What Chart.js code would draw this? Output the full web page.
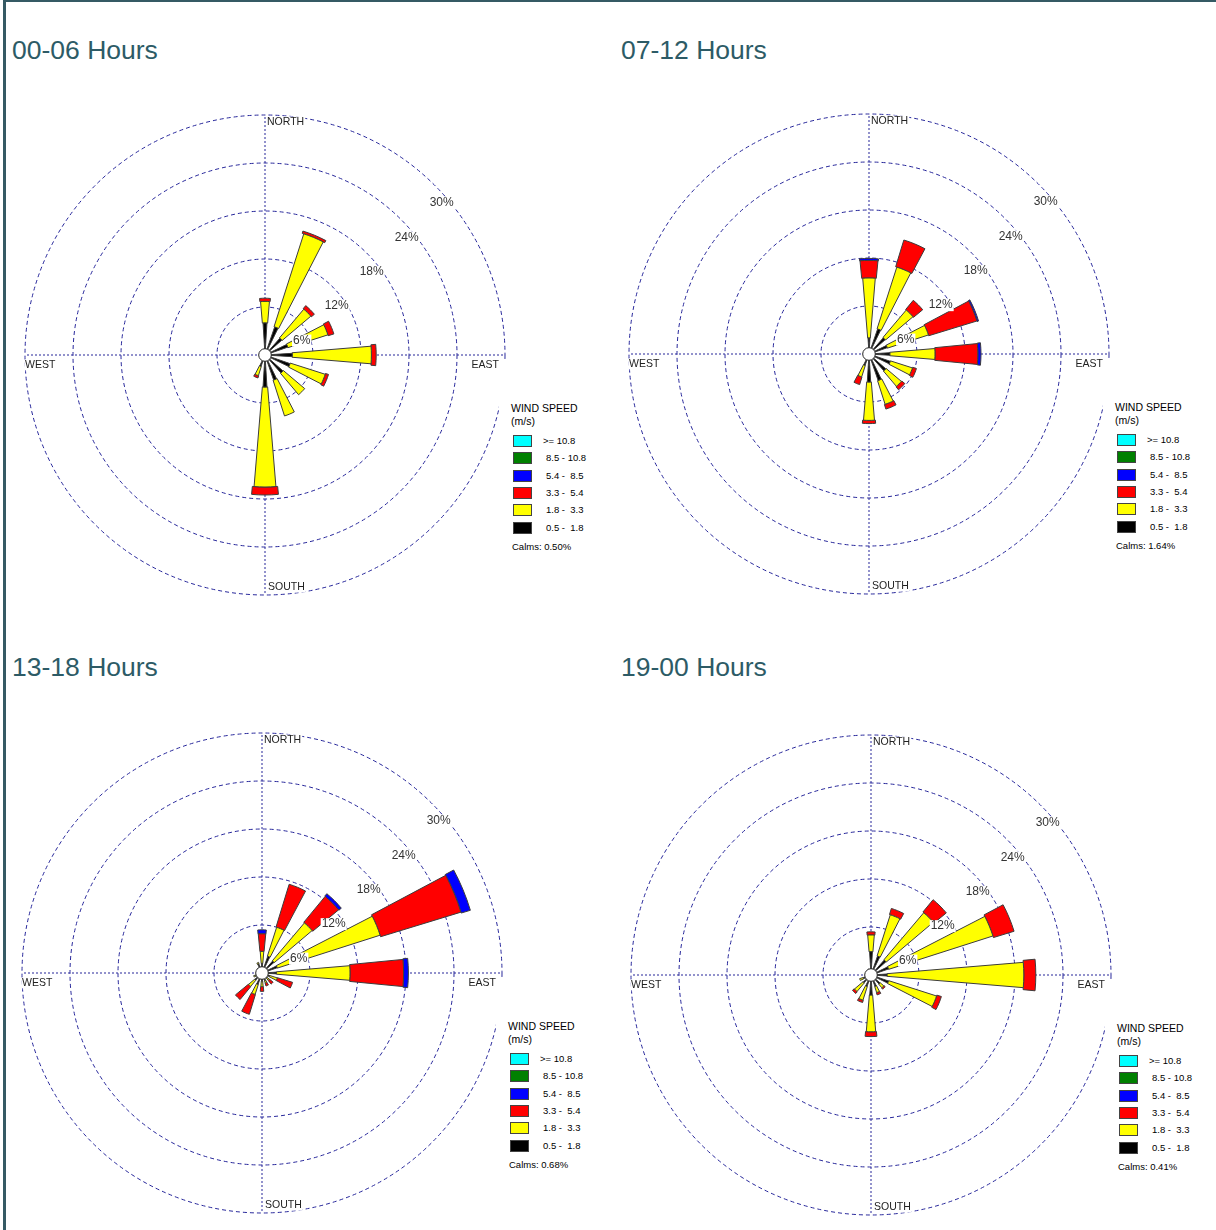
<!DOCTYPE html>
<html>
<head>
<meta charset="utf-8">
<script src="https://cdn.jsdelivr.net/npm/chart.js@4.4.1/dist/chart.umd.min.js"></script>
<style>
  html, body { margin: 0; padding: 0; background: #fff; }
  body { width: 1216px; height: 1230px; position: relative; overflow: hidden;
         font-family: "Liberation Sans", Arial, sans-serif; }
  #frame { position: absolute; left: 3px; top: 0; width: 1213px; height: 1230px; box-sizing: border-box;
           border-left: 3px solid #355a64; border-top: 2px solid #355a64; }
  .title { position: absolute; font-size: 26.5px; line-height: 27px; color: #2d5b66; white-space: nowrap; }
  .rose { position: absolute; width: 488px; height: 488px; }
  .legend { position: absolute; width: 110px; height: 198px; background: #fff; color: #000; }
  .legend div { position: absolute; white-space: pre; }
  .lgHead { left: 12px; top: 43px; font-size: 10.5px; line-height: 13px; }
  .lgBox { width: 19px; height: 12px; box-sizing: border-box; border: 1px solid #444; }
  .lgText { font-size: 9.5px; line-height: 12px; }
</style>
</head>
<body>
<div id="frame"></div>
<script>
// ---- data -----------------------------------------------------------------
const directions = ['N', 'NNE', 'NE', 'ENE', 'E', 'ESE', 'SE', 'SSE', 'S', 'SSW', 'SW', 'WSW', 'W', 'WNW', 'NW', 'NNW'];
const compassLabels = ['NORTH', 'EAST', 'SOUTH', 'WEST'];
const ringTicks = [6, 12, 18, 24, 30];
const speedClasses = ['>= 10.8', '8.5 - 10.8', '5.4 -  8.5', '3.3 -  5.4', '1.8 -  3.3', '0.5 -  1.8'];
const panelTitles = ['00-06 Hours', '07-12 Hours', '13-18 Hours', '19-00 Hours'];
const calms = ['0.50', '1.64', '0.68', '0.41'];

// frequency (%) by direction, N..NNW
const none      = [0, 0, 0, 0, 0, 0, 0, 0, 0, 0, 0, 0, 0, 0, 0, 0];

const h00Black  = [4.0, 3.7, 2.8, 3.0, 3.4, 3.3, 3.0, 3.3, 4.0, 1.5, 0.4, 0.3, 0.3, 0.3, 0.4, 0.5];
const h00Yellow = [2.7, 12.2, 4.7, 5.25, 9.9, 4.6, 3.5, 4.7, 12.5, 1.2, 0, 0, 0, 0, 0, 0];
const h00Red    = [0.4, 0.3, 0.5, 0.75, 0.6, 0.4, 0, 0, 1.0, 0.3, 0, 0, 0, 0, 0, 0];

const h07Black  = [2.0, 3.3, 2.7, 2.4, 2.6, 2.8, 2.8, 3.5, 3.5, 1.5, 0.5, 0.3, 0.3, 0.3, 0.4, 0.6];
const h07Yellow = [7.5, 8.1, 4.5, 5.4, 5.65, 2.9, 2.5, 3.1, 4.8, 1.5, 0, 0, 0, 0, 0, 0];
const h07Red    = [2.2, 3.5, 1.5, 6.3, 5.35, 0.5, 0.5, 0.6, 0.4, 1.0, 0, 0, 0, 0, 0, 0];
const h07Blue   = [0.25, 0, 0, 0.2, 0.4, 0, 0, 0, 0, 0, 0, 0, 0, 0, 0, 0];

const h13Black  = [1.2, 2.2, 2.0, 2.0, 1.8, 1.0, 0.8, 1.0, 1.0, 1.5, 1.2, 0.8, 0.6, 0.5, 0.8, 1.2];
const h13Yellow = [1.5, 3.8, 6.2, 13.5, 9.2, 1.0, 0.4, 0.3, 0.7, 1.3, 1.0, 0.3, 0, 0, 0, 0.2];
const h13Red    = [2.2, 5.6, 4.2, 10.5, 6.7, 2.0, 0.6, 0.4, 0.6, 2.6, 2.1, 0, 0, 0, 0, 0];
const h13Blue   = [0.5, 0, 0.4, 1.2, 0.6, 0, 0, 0, 0, 0, 0, 0, 0, 0, 0, 0];

const h19Black  = [2.9, 2.5, 2.5, 2.3, 2.0, 2.3, 1.5, 1.5, 2.5, 1.5, 1.3, 1.0, 0.5, 0.4, 0.6, 0.8];
const h19Yellow = [2.1, 5.4, 7.7, 13.7, 17.1, 6.3, 0.6, 0.8, 4.6, 1.8, 1.4, 0.5, 0, 0, 0, 0];
const h19Red    = [0.4, 0.8, 2.0, 2.7, 1.5, 0.6, 0.2, 0.3, 0.6, 0.3, 0.3, 0, 0, 0, 0, 0];

// ---- styles ---------------------------------------------------------------
const legendColors = ['#00ffff', '#008000', '#0000ff', '#ff0000', '#ffff00', '#000000']; // same order as speedClasses
const bandColors = ['#000000', '#ffff00', '#ff0000', '#0000ff', '#008000', '#00ffff'];   // inner to outer
const bandWidths = [7, 9.5, 11, 11.5, 12, 12.5];                                       // petal width, degrees
const gridColor = '#26269a';

const panels = [
  { cx: 265, cy: 355, tx: 12,  ty: 37,  bands: [h00Black, h00Yellow, h00Red, none, none, none] },
  { cx: 869, cy: 354, tx: 621, ty: 37,  bands: [h07Black, h07Yellow, h07Red, h07Blue, none, none] },
  { cx: 262, cy: 973, tx: 12,  ty: 654, bands: [h13Black, h13Yellow, h13Red, h13Blue, none, none] },
  { cx: 871, cy: 975, tx: 621, ty: 654, bands: [h19Black, h19Yellow, h19Red, none, none, none] }
];

// polar area whose arcs can start above the centre (stacked wind rose bands)
class WindRoseController extends Chart.PolarAreaController {
  static id = 'windRose';
  updateElement(element, index, properties, mode) {
    if (properties && 'outerRadius' in properties) {
      const base = this.getDataset().base;
      const b = base ? base[index] : 0;
      properties.innerRadius = b > 0 ? this._cachedMeta.rScale.getDistanceFromCenterForValue(b) : 0;
    }
    super.updateElement(element, index, properties, mode);
  }
}
Chart.register(WindRoseController);

// one slot per petal plus the gaps between them; first slot rotates petal N onto north
function toSlots(values) {
  const out = [0];
  values.forEach((v, i) => {
    out.push(v);
    if (i < values.length - 1) out.push(0);
  });
  return out;
}
function slotAngles(width) {
  const out = [360 - width / 2];
  directions.forEach((d, i) => {
    out.push(width);
    if (i < directions.length - 1) out.push(22.5 - width);
  });
  return out;
}

const compassPlace = [[2, 7, 'left'], [-6, 10.5, 'right'], [3, -8, 'left'], [0, 10, 'left']];

const roseText = {
  id: 'roseText',
  afterDatasetsDraw(chart) {
    const r = chart.scales.r;
    const ctx = chart.ctx;
    ctx.save();
    // calm circle
    ctx.beginPath();
    ctx.arc(r.xCenter, r.yCenter, 6.3, 0, Math.PI * 2);
    ctx.fillStyle = '#fff';
    ctx.fill();
    ctx.lineWidth = 1;
    ctx.strokeStyle = '#222';
    ctx.stroke();

    ctx.textBaseline = 'middle';
    ctx.font = '12px "Liberation Sans", Arial, sans-serif';
    ctx.textAlign = 'center';
    ringTicks.forEach(v => {
      const d = r.getDistanceFromCenterForValue(v);
      const x = r.xCenter + d * 0.729 + 1.7;
      const y = r.yCenter - d * 0.717 + 20;
      const t = v + '%';
      const w = ctx.measureText(t).width;
      ctx.fillStyle = '#fff';
      ctx.fillRect(x - w / 2 - 1, y - 6, w + 2, 12);
      ctx.fillStyle = '#333';
      ctx.fillText(t, x, y);
    });

    ctx.font = '10.5px "Liberation Sans", Arial, sans-serif';
    const dMax = r.getDistanceFromCenterForValue(r.max);
    chart.data.labels.forEach((lab, i) => {
      const pos = r.getPointPosition(i, dMax);
      const [ox, oy, align] = compassPlace[i];
      const x = pos.x + ox, y = pos.y + oy;
      const w = ctx.measureText(lab).width;
      const left = align === 'left' ? x : x - w;
      ctx.fillStyle = '#fff';
      ctx.fillRect(left - 0.5, y - 5.5, w + 1.5, 11);
      ctx.fillStyle = '#222';
      ctx.textAlign = align;
      ctx.fillText(lab, x, y);
    });
    ctx.restore();
  }
};

panels.forEach((p, n) => {
  const title = document.createElement('div');
  title.className = 'title';
  title.textContent = panelTitles[n];
  title.style.left = p.tx + 'px';
  title.style.top = p.ty + 'px';
  document.body.appendChild(title);

  const canvas = document.createElement('canvas');
  canvas.width = 488;
  canvas.height = 488;
  canvas.className = 'rose';
  canvas.style.left = (p.cx - 244) + 'px';
  canvas.style.top = (p.cy - 244) + 'px';
  document.body.appendChild(canvas);

  // legend
  const lg = document.createElement('div');
  lg.className = 'legend';
  lg.style.left = (p.cx + 234) + 'px';
  lg.style.top = (p.cy + 4) + 'px';
  let html = '<div class="lgHead">WIND SPEED\n(m/s)</div>';
  speedClasses.forEach((s, j) => {
    const top = 76 + j * 17.35;
    html += '<div class="lgBox" style="left:14px;top:' + top + 'px;background:' + legendColors[j] + '"></div>';
    html += '<div class="lgText" style="left:' + (j === 0 ? 44 : 47) + 'px;top:' + top + 'px">' +
            s.replace('>', '&gt;') + '</div>';
  });
  html += '<div class="lgText" style="left:13px;top:182px">Calms: ' + calms[n] + '%</div>';
  lg.innerHTML = html;
  document.body.appendChild(lg);

  // stacked bands, inner (slow) to outer (fast)
  const datasets = [];
  let below = none;
  p.bands.forEach((band, k) => {
    const top = band.map((v, i) => below[i] + v);
    const angles = slotAngles(bandWidths[k]);
    const bandSlots = toSlots(band);
    datasets.push({
      label: speedClasses[speedClasses.length - 1 - k],
      data: toSlots(top),
      base: toSlots(below),
      angle: c => angles[c.dataIndex],
      backgroundColor: bandColors[k],
      borderColor: '#3c3c3c',
      borderWidth: c => (bandSlots[c.dataIndex] > 0 ? 1 : 0)
    });
    below = top;
  });

  new Chart(canvas, {
    type: 'windRose',
    data: { labels: compassLabels, datasets },
    options: {
      responsive: false,
      animation: false,
      events: [],
      layout: { padding: 4 },
      plugins: { legend: { display: false }, tooltip: { enabled: false } },
      scales: {
        r: {
          min: 0,
          max: 30,
          startAngle: 0,
          ticks: { stepSize: 6, display: false },
          grid: { circular: true, color: gridColor, lineWidth: 1 },
          border: { dash: [4, 3] },
          angleLines: { display: true, color: gridColor, lineWidth: 1, borderDash: [2, 2] },
          pointLabels: { display: false }
        }
      }
    },
    plugins: [roseText]
  });
});
</script>
</body>
</html>
